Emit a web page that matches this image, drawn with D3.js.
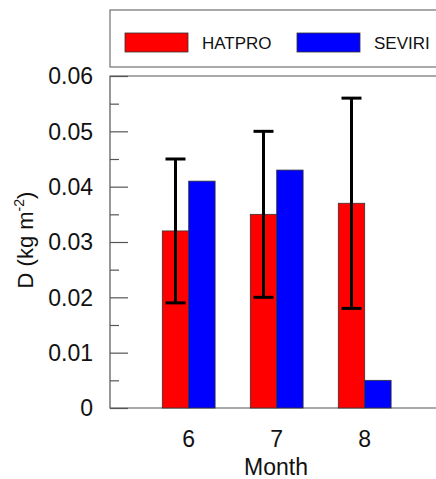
<!DOCTYPE html>
<html><head><meta charset="utf-8">
<script src="https://cdn.jsdelivr.net/npm/d3@7"></script>
<style>body{margin:0;background:#fff;overflow:hidden}svg{display:block}text{font-family:"Liberation Sans",Arial,sans-serif;fill:#111}</style>
</head><body><svg id="c" width="436" height="479"></svg>
<script>
const months = [6, 7, 8];
const hatpro = [0.032, 0.035, 0.037];
const seviri = [0.041, 0.043, 0.005];
const errLow = [0.019, 0.020, 0.018];
const errHigh = [0.045, 0.050, 0.056];
const yTicks = [0, 0.01, 0.02, 0.03, 0.04, 0.05, 0.06];
const yMinor = [0.005, 0.015, 0.025, 0.035, 0.045, 0.055];
const seriesNames = ["HATPRO", "SEVIRI"];
const colors = ["#ff0000", "#0000ff"];

const svg = d3.select("#c");
const L = 110, T = 76, B = 408, R = 480;
const y = d3.scaleLinear().domain([0, 0.06]).range([B, T]);
const x = d3.scaleLinear().domain([6, 8]).range([188.7, 364.7]);
const bw = 26.4;

// legend box
svg.append("rect").attr("x", L).attr("y", 10).attr("width", 380).attr("height", 57)
  .attr("fill", "none").attr("stroke", "#555").attr("stroke-width", 1);
const legX = [125, 297];
seriesNames.forEach((n, i) => {
  svg.append("rect").attr("x", legX[i]).attr("y", 33).attr("width", 63).attr("height", 19)
    .attr("fill", colors[i]).attr("stroke", "#333").attr("stroke-width", 0.8);
  svg.append("text").attr("x", legX[i] + 77).attr("y", 49).attr("font-size", 17).text(n);
});

// frame
svg.append("path").attr("d", `M${R},${T}H${L}V${B}H${R}`).attr("fill", "none")
  .attr("stroke", "#555").attr("stroke-width", 1.2);

// y axis ticks
const yAxis = d3.axisRight(y).tickValues(yTicks).tickSize(18).tickFormat("");
const gy = svg.append("g").attr("transform", `translate(${L},0)`).call(yAxis);
gy.select(".domain").remove();
gy.selectAll("line").attr("stroke", "#555").attr("stroke-width", 1.2);
const yAxisMinor = d3.axisRight(y).tickValues(yMinor).tickSize(9).tickFormat("");
const gym = svg.append("g").attr("transform", `translate(${L},0)`).call(yAxisMinor);
gym.select(".domain").remove();
gym.selectAll("line").attr("stroke", "#555").attr("stroke-width", 1.2);

svg.selectAll(".ylab").data(yTicks).join("text").attr("class", "ylab")
  .attr("x", 93).attr("y", d => y(d)).attr("dy", "0.36em").attr("text-anchor", "end")
  .attr("font-size", 23).text(d => d === 0 ? "0" : d.toFixed(2));

// bars
const data = months.map((m, i) => ({m, h: hatpro[i], s: seviri[i], lo: errLow[i], hi: errHigh[i]}));
svg.selectAll(".bh").data(data).join("rect").attr("class", "bh")
  .attr("x", d => x(d.m) - bw).attr("y", d => y(d.h)).attr("width", bw).attr("height", d => B - y(d.h))
  .attr("fill", colors[0]).attr("stroke", "#333").attr("stroke-width", 0.8);
svg.selectAll(".bs").data(data).join("rect").attr("class", "bs")
  .attr("x", d => x(d.m)).attr("y", d => y(d.s)).attr("width", bw).attr("height", d => B - y(d.s))
  .attr("fill", colors[1]).attr("stroke", "#333").attr("stroke-width", 0.8);

// error bars
const eg = svg.selectAll(".err").data(data).join("g").attr("class", "err");
eg.append("line").attr("x1", d => x(d.m) - bw / 2).attr("x2", d => x(d.m) - bw / 2)
  .attr("y1", d => y(d.lo)).attr("y2", d => y(d.hi)).attr("stroke", "#000").attr("stroke-width", 3);
eg.append("line").attr("x1", d => x(d.m) - bw / 2 - 10).attr("x2", d => x(d.m) - bw / 2 + 10)
  .attr("y1", d => y(d.lo)).attr("y2", d => y(d.lo)).attr("stroke", "#000").attr("stroke-width", 3);
eg.append("line").attr("x1", d => x(d.m) - bw / 2 - 10).attr("x2", d => x(d.m) - bw / 2 + 10)
  .attr("y1", d => y(d.hi)).attr("y2", d => y(d.hi)).attr("stroke", "#000").attr("stroke-width", 3);

// x tick labels
svg.selectAll(".xlab").data(months).join("text").attr("class", "xlab")
  .attr("x", d => x(d)).attr("y", 447).attr("text-anchor", "middle").attr("font-size", 23).text(d => d);
svg.append("text").attr("x", 276).attr("y", 475).attr("text-anchor", "middle").attr("font-size", 23).text("Month");

// y label
const yl = svg.append("text").attr("transform", `translate(33,240) rotate(-90)`)
  .attr("text-anchor", "middle").attr("font-size", 22);
yl.append("tspan").text("D (kg m");
yl.append("tspan").attr("font-size", 14).attr("dy", -9).text("-2");
yl.append("tspan").attr("dy", 9).text(")");
</script></body></html>
